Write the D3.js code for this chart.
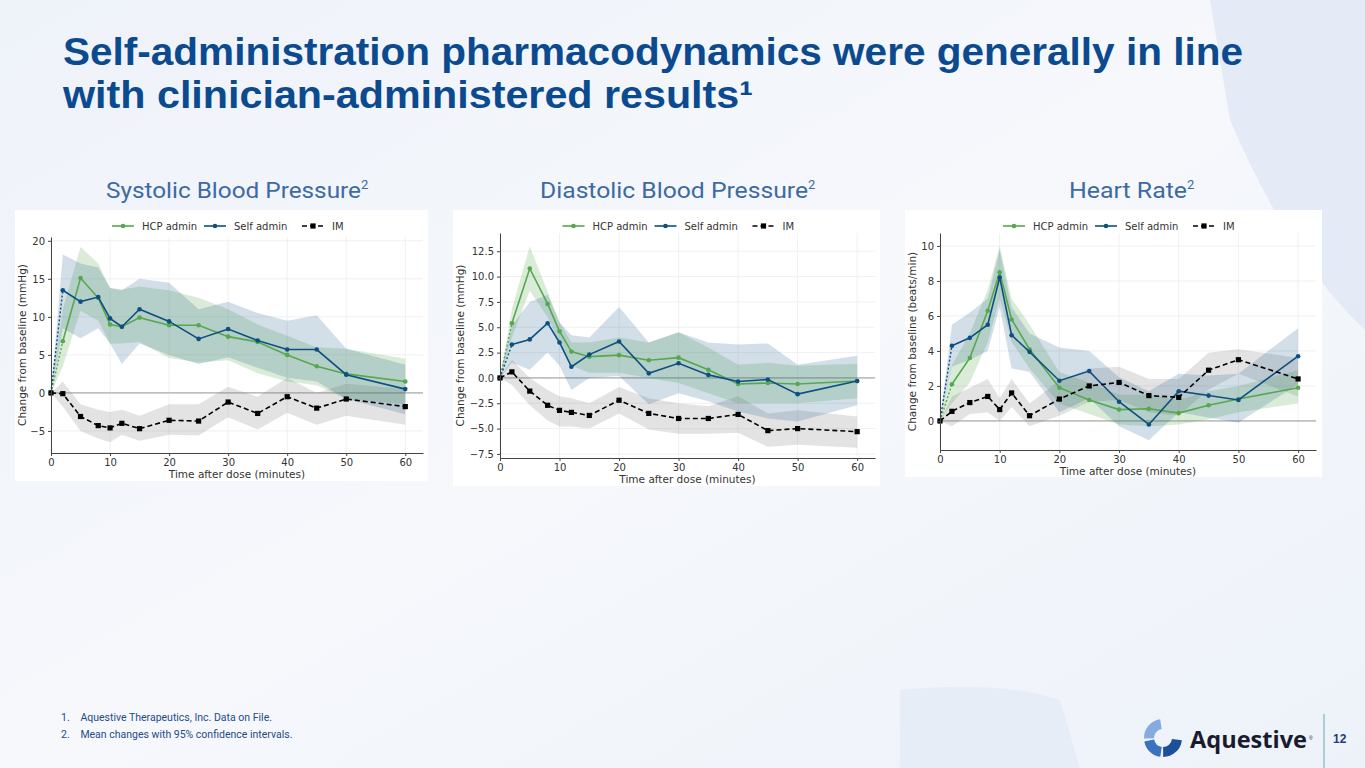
<!DOCTYPE html>
<html><head><meta charset="utf-8">
<script src="https://cdn.jsdelivr.net/npm/d3@7"></script>
<style>
body{margin:0;width:1365px;height:768px;overflow:hidden;font-family:"Liberation Sans",Arial,sans-serif;}
svg{display:block}
</style></head><body>
<svg id="chart" width="1365" height="768"></svg>
<script>
const times = [0,2,5,8,10,12,15,20,25,30,35,40,45,50,60];

// Systolic
const sbpHcp = [0,6.8,15.1,12.5,9.0,8.7,9.9,8.9,8.9,7.4,6.7,5.0,3.5,2.5,1.5];
const sbpHcpHi = [0,11,19.2,17,13.8,13.6,14,13.5,12.5,11,9,7.5,6,5.8,4.5];
const sbpHcpLo = [0,3.5,10.8,9.5,6.5,6.5,6.7,4.6,4.0,4.3,2.6,1.5,1.0,-0.8,-1.5];
const sbpSelf = [0,13.5,12.0,12.6,9.8,8.7,11.0,9.4,7.1,8.4,6.9,5.7,5.7,2.4,0.5];
const sbpSelfHi = [0,18.2,17,16.5,13.8,13.5,15,14.5,11,12,10.5,9.5,10.2,5.8,3.7];
const sbpSelfLo = [0,8.5,7.2,8.5,6.5,3.8,6.5,5.0,3.8,4.7,3.3,2.0,1.5,-0.8,-2.8];
const sbpIm = [0,-0.1,-3.1,-4.3,-4.6,-4.0,-4.7,-3.6,-3.7,-1.2,-2.7,-0.5,-2.0,-0.8,-1.8];
const sbpImHi = [0,1.5,-1.5,-2.2,-2.5,-2.2,-3,-1.5,-1.5,0.8,-0.5,2,0,1.2,0.5];
const sbpImLo = [0,-1.8,-5,-6,-6.5,-5.5,-6.3,-5.5,-5.6,-3.2,-4.8,-2.6,-4.2,-3,-4.2];
const sbpTicks = [-5,0,5,10,15,20];

// Diastolic
const dbpHcp = [0,5.4,10.8,7.3,4.6,2.6,2.1,2.25,1.75,2.0,0.8,-0.6,-0.5,-0.6,-0.3];
const dbpHcpHi = [0,6.8,13,8.5,5.5,3.5,3.5,4,3.5,4.5,3,1.3,1.5,1.2,1.4];
const dbpHcpLo = [0,4,8.6,6,3.5,1.2,0.5,0.5,0,-0.5,-1.5,-2.5,-2.5,-2.5,-2];
const dbpSelf = [0,3.3,3.8,5.4,3.5,1.1,2.3,3.6,0.45,1.45,0.3,-0.35,-0.15,-1.6,-0.3];
const dbpSelfHi = [0,5.2,7.5,8.2,5.5,4.2,4,7,3.5,4.5,3.5,3.3,3.4,1.3,2.2];
const dbpSelfLo = [0,1.5,0.8,2.5,1.2,-1.2,0,0.2,-2.6,-1.5,-2.3,-3.3,-4,-4.3,-2.7];
const dbpIm = [0,0.6,-1.3,-2.7,-3.2,-3.4,-3.7,-2.2,-3.5,-4.0,-4.0,-3.6,-5.2,-5.0,-5.3];
const dbpImHi = [0,1.8,0,-1.2,-1.8,-2,-2.5,-0.9,-2,-2.5,-2.8,-1.8,-3.5,-3.2,-3.8];
const dbpImLo = [0,-0.7,-2.7,-4.2,-4.8,-4.8,-5.0,-3.5,-5.1,-5.5,-5.5,-5.4,-6.8,-6.6,-6.9];
const dbpTicks = [-7.5,-5,-2.5,0,2.5,5,7.5,10,12.5];

// Heart rate
const hrHcp = [0,2.1,3.6,6.3,8.5,5.8,4.1,1.9,1.2,0.65,0.7,0.45,0.9,1.25,1.9];
const hrHcpHi = [0,3.2,5,7.5,10,7,5.5,2.8,2.2,1.5,1.5,1.2,1.7,2.0,2.9];
const hrHcpLo = [0,1,2.2,4.5,7,4.5,3,1.0,0.4,-0.2,-0.3,-0.2,0.1,0.5,1];
const hrSelf = [0,4.3,4.75,5.5,8.2,4.9,3.95,2.3,2.85,1.1,-0.2,1.7,1.45,1.2,3.7];
const hrSelfHi = [0,5.5,6.2,7,9.8,6.5,5,4.2,4,2.5,1.7,2.7,2.6,2.7,5.3];
const hrSelfLo = [0,3.1,3.5,4,6.5,3,2.8,0.5,1.3,-0.3,-1.1,0.5,0.2,-0.1,2.1];
const hrIm = [0,0.55,1.05,1.4,0.65,1.6,0.3,1.25,2.0,2.2,1.45,1.35,2.9,3.5,2.4];
const hrImHi = [0,1.4,1.9,2.4,1.3,2.4,1.0,2.3,3,3.1,2.4,2.4,3.9,4.1,3.6];
const hrImLo = [0,-0.3,0.4,0.5,0,0.8,-0.3,0.3,1.1,1.2,0.5,0.3,1.8,2.7,1.4];
const hrTicks = [0,2,4,6,8,10];

const xTicks = [0,10,20,30,40,50,60];
const green = "#55a84f", blue = "#0d4f80";

const svg = d3.select("#chart");

// background
const defs = svg.append("defs");
const bg = defs.append("linearGradient").attr("id","bg").attr("x1",0).attr("y1",0).attr("x2",1).attr("y2",1);
bg.append("stop").attr("offset",0).attr("stop-color","#eef2f9");
bg.append("stop").attr("offset",0.5).attr("stop-color","#f6f8fc");
bg.append("stop").attr("offset",1).attr("stop-color","#edf2f9");
svg.append("rect").attr("width",1365).attr("height",768).attr("fill","url(#bg)");
svg.append("path").attr("d","M1210,0 L1365,0 L1365,330 Q1290,260 1230,120 Z").attr("fill","#dde6f3").attr("opacity",0.7);
svg.append("path").attr("d","M900,768 L900,690 Q1000,680 1060,700 L1080,768 Z").attr("fill","#e3eaf5").attr("opacity",0.7);

// title
svg.append("text").attr("x",63).attr("y",65).attr("font-size",38).attr("font-weight","bold").attr("fill","#0b4a8f")
  .attr("textLength",1180).attr("lengthAdjust","spacingAndGlyphs")
  .text("Self-administration pharmacodynamics were generally in line");
svg.append("text").attr("x",63).attr("y",108).attr("font-size",38).attr("font-weight","bold").attr("fill","#0b4a8f")
  .attr("textLength",690).attr("lengthAdjust","spacingAndGlyphs")
  .text("with clinician-administered results¹");

function subtitle(x, t, w) {
  const s = svg.append("text").attr("x",x).attr("y",198)
    .attr("font-family","Roboto, 'Noto Sans', sans-serif").attr("font-size",22).attr("fill","#3d6aa3");
  s.append("tspan").attr("textLength",w).attr("lengthAdjust","spacingAndGlyphs").text(t);
  s.append("tspan").attr("dy",-9).attr("font-size",13).text("2");
}
subtitle(106, "Systolic Blood Pressure", 255);
subtitle(540, "Diastolic Blood Pressure", 268);
subtitle(1069, "Heart Rate", 118);

function panel(cfg) {
  const g = svg.append("g").attr("font-family","'DejaVu Sans', sans-serif");
  g.append("rect").attr("x",cfg.box[0]).attr("y",cfg.box[1]).attr("width",cfg.box[2]).attr("height",cfg.box[3]).attr("fill","#fff");
  const x = d3.scaleLinear().domain([0,63]).range([cfg.px0, cfg.px1]);
  const y = d3.scaleLinear().domain(cfg.yDom).range([cfg.py0, cfg.py1]);
  // grid
  g.selectAll(".gx").data(xTicks).join("line").attr("x1",d=>x(d)).attr("x2",d=>x(d)).attr("y1",cfg.py0).attr("y2",cfg.py1).attr("stroke","#ececec").attr("stroke-width",0.8);
  g.selectAll(".gy").data(cfg.ticks).join("line").attr("x1",cfg.px0).attr("x2",cfg.px1).attr("y1",d=>y(d)).attr("y2",d=>y(d)).attr("stroke","#ececec").attr("stroke-width",0.8);
  g.append("line").attr("x1",cfg.px0).attr("x2",cfg.px1).attr("y1",y(0)).attr("y2",y(0)).attr("stroke","#999").attr("stroke-width",1);

  const series = [
    {m:cfg.im, lo:cfg.imLo, hi:cfg.imHi, c:"#000", band:"rgba(128,128,128,0.22)"},
    {m:cfg.hcp, lo:cfg.hcpLo, hi:cfg.hcpHi, c:green, band:"rgba(85,168,79,0.22)"},
    {m:cfg.self, lo:cfg.selfLo, hi:cfg.selfHi, c:blue, band:"rgba(13,79,128,0.18)"}
  ];
  const area = d3.area().x((d,i)=>x(times[i])).y0(d=>y(d[0])).y1(d=>y(d[1]));
  series.forEach(s => {
    g.append("path").datum(s.lo.map((v,i)=>[v,s.hi[i]])).attr("d",area).attr("fill",s.band);
  });
  const line = d3.line().x(d=>x(d[0])).y(d=>y(d[1]));
  // HCP & self: dotted first segment, then solid
  [series[1], series[2]].forEach(s => {
    const pts = times.map((t,i)=>[t,s.m[i]]);
    g.append("path").datum(pts.slice(0,2)).attr("d",line).attr("fill","none").attr("stroke",s.c).attr("stroke-width",1.4).attr("stroke-dasharray","2,2");
    g.append("path").datum(pts.slice(1)).attr("d",line).attr("fill","none").attr("stroke",s.c).attr("stroke-width",1.6);
    g.selectAll(null).data(pts).join("circle").attr("cx",d=>x(d[0])).attr("cy",d=>y(d[1])).attr("r",2.3).attr("fill",s.c);
  });
  const imPts = times.map((t,i)=>[t,cfg.im[i]]);
  g.append("path").datum(imPts).attr("d",line).attr("fill","none").attr("stroke","#000").attr("stroke-width",1.6).attr("stroke-dasharray","5,3");
  g.selectAll(null).data(imPts).join("rect").attr("x",d=>x(d[0])-2.6).attr("y",d=>y(d[1])-2.6).attr("width",5.2).attr("height",5.2).attr("fill","#000");

  // axes
  const xa = g.append("g").attr("transform",`translate(0,${cfg.py0})`).call(d3.axisBottom(x).tickValues(xTicks).tickSize(3).tickSizeOuter(0));
  const ya = g.append("g").attr("transform",`translate(${cfg.px0},0)`).call(d3.axisLeft(y).tickValues(cfg.ticks).tickSize(3).tickSizeOuter(0).tickFormat(cfg.fmt));
  [xa,ya].forEach(a => {
    a.selectAll("text").attr("font-size",10).attr("fill","#333").attr("font-family","'DejaVu Sans', sans-serif");
    a.select(".domain").attr("stroke","#444");
    a.selectAll(".tick line").attr("stroke","#444");
  });
  g.append("text").attr("x",(cfg.px0+cfg.px1)/2).attr("y",cfg.py0+25).attr("text-anchor","middle").attr("font-size",10.5).attr("fill","#333").text("Time after dose (minutes)");
  g.append("text").attr("transform",`translate(${cfg.box[0]+11},${(cfg.py0+cfg.py1)/2}) rotate(-90)`).attr("text-anchor","middle").attr("font-size",10.5).attr("fill","#333").text(cfg.ylab);

  // legend
  const lx = (cfg.px0+cfg.px1)/2 - 125, ly = cfg.box[1]+16;
  const items = [["HCP admin",green,false],["Self admin",blue,false],["IM","#000",true]];
  const offs = [0, 92, 190];
  items.forEach((it,i) => {
    const ox = lx + offs[i];
    g.append("line").attr("x1",ox).attr("x2",ox+22).attr("y1",ly).attr("y2",ly).attr("stroke",it[1]).attr("stroke-width",1.6).attr("stroke-dasharray",it[2]?"5,3":null);
    if (it[2]) g.append("rect").attr("x",ox+8.4).attr("y",ly-2.6).attr("width",5.2).attr("height",5.2).attr("fill","#000");
    else g.append("circle").attr("cx",ox+11).attr("cy",ly).attr("r",2.3).attr("fill",it[1]);
    g.append("text").attr("x",ox+30).attr("y",ly+3.5).attr("font-size",10).attr("fill","#333").text(it[0]);
  });
}

panel({box:[15,210,413,271], px0:51, px1:423, py0:453, py1:237, yDom:[-7.9,20.5], ticks:sbpTicks, fmt:d3.format("d"),
  ylab:"Change from baseline (mmHg)", hcp:sbpHcp, hcpLo:sbpHcpLo, hcpHi:sbpHcpHi, self:sbpSelf, selfLo:sbpSelfLo, selfHi:sbpSelfHi, im:sbpIm, imLo:sbpImLo, imHi:sbpImHi});
panel({box:[453,210,427,276], px0:500, px1:875, py0:458, py1:233, yDom:[-7.9,14.3], ticks:dbpTicks, fmt:d3.format(".1f"),
  ylab:"Change from baseline (mmHg)", hcp:dbpHcp, hcpLo:dbpHcpLo, hcpHi:dbpHcpHi, self:dbpSelf, selfLo:dbpSelfLo, selfHi:dbpSelfHi, im:dbpIm, imLo:dbpImLo, imHi:dbpImHi});
panel({box:[905,210,417,267], px0:940, px1:1316, py0:450, py1:233, yDom:[-1.66,10.74], ticks:hrTicks, fmt:d3.format("d"),
  ylab:"Change from baseline (beats/min)", hcp:hrHcp, hcpLo:hrHcpLo, hcpHi:hrHcpHi, self:hrSelf, selfLo:hrSelfLo, selfHi:hrSelfHi, im:hrIm, imLo:hrImLo, imHi:hrImHi});

// footnotes
const fn = ["1.\u2003Aquestive Therapeutics, Inc. Data on File.","2.\u2003Mean changes with 95% confidence intervals."];
fn.forEach((t,i) => svg.append("text").attr("x",61).attr("y",721+i*17).attr("font-size",10.5).attr("fill","#1e4c8a").attr("font-family","Roboto, sans-serif").text(t));

// logo
const lg = svg.append("g").attr("transform","translate(1163,738)");
const arc = d3.arc();
lg.append("path").attr("d",arc({innerRadius:9,outerRadius:19,startAngle:-1.6,endAngle:-0.15})).attr("fill","#86acdf");
lg.append("path").attr("d",arc({innerRadius:9,outerRadius:19,startAngle:-3.0,endAngle:-1.75})).attr("fill","#3a72c0");
lg.append("path").attr("d",arc({innerRadius:9,outerRadius:19,startAngle:-4.6,endAngle:-3.15})).attr("fill","#1d4f9c");
svg.append("text").attr("x",1190).attr("y",748).attr("font-size",24).attr("font-weight","bold").attr("fill","#1a1a2e")
  .attr("font-family","'Open Sans', sans-serif").attr("textLength",117).attr("lengthAdjust","spacingAndGlyphs").text("Aquestive");
svg.append("text").attr("x",1309).attr("y",740).attr("font-size",5).attr("fill","#1a1a2e").text("®");
svg.append("line").attr("x1",1324).attr("x2",1324).attr("y1",714).attr("y2",768).attr("stroke","#5fb0b0").attr("stroke-width",1);
svg.append("text").attr("x",1333).attr("y",743).attr("font-size",12).attr("font-weight","bold").attr("fill","#1e3f7a").text("12");
</script>
</body></html>
